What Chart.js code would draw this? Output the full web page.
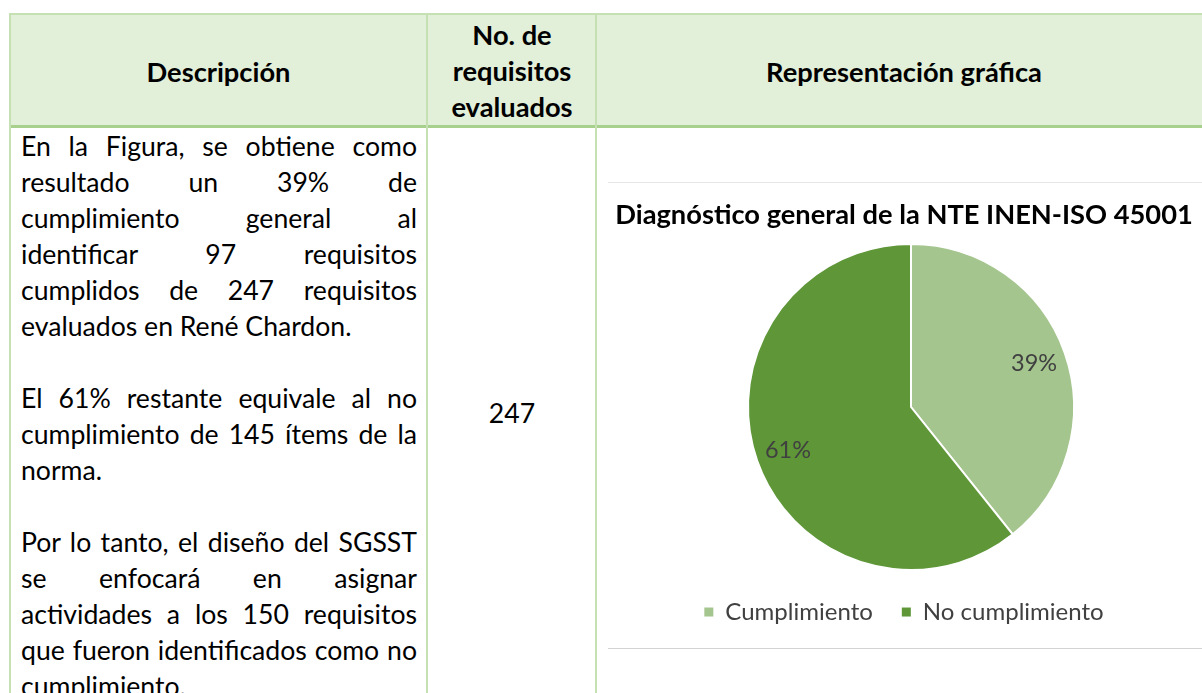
<!DOCTYPE html>
<html lang="es"><head><meta charset="utf-8">
<script src="https://cdn.jsdelivr.net/npm/chart.js@4.4.1/dist/chart.umd.min.js"></script>
<style>
html,body{margin:0;padding:0;background:#fff;}
body{width:1202px;height:693px;overflow:hidden;position:relative;font-family:Lato,"Noto Sans",sans-serif;color:#000;}
.a{position:absolute;box-sizing:border-box;}
#hdrbg{left:10px;top:13px;width:1192px;height:115px;background:#E2EFD9;border-top:2px solid #C5E0B3;border-bottom:3px solid #A8D08D;}
.vl{top:13px;height:680px;width:2px;background:#C5E0B3;}
.hd{font-weight:bold;text-align:center;line-height:36px;white-space:nowrap;}
#h1{left:10px;width:417px;top:54px;}
#h2{left:428px;width:168px;top:17px;}
#h3{left:597px;width:614px;top:54px;}
#bodytext{left:21px;top:128px;width:396px;line-height:36px;}
#bodytext div{height:36px;text-align:justify;text-align-last:justify;}
#bodytext div.l{text-align:left;text-align-last:left;}
#n247{left:428px;width:168px;top:395px;text-align:center;line-height:36px;}
#chartbox{left:608px;top:182px;width:594px;height:467px;border-top:1px solid #E6E6E6;border-bottom:1px solid #D2D2D2;}
#cw{left:608px;top:183px;width:592px;height:465px;}
</style></head>
<body>
<div class="a" id="hdrbg"></div>
<div class="a vl" style="left:9px"></div>
<div class="a vl" style="left:426px"></div>
<div class="a vl" style="left:595px"></div>
<div class="a hd" id="h1">Descripción</div>
<div class="a hd" id="h2">No. de<br>requisitos<br>evaluados</div>
<div class="a hd" id="h3">Representación gráfica</div>
<div class="a" id="bodytext">
<div>En la Figura, se obtiene como</div>
<div>resultado un 39% de</div>
<div>cumplimiento general al</div>
<div>identificar 97 requisitos</div>
<div>cumplidos de 247 requisitos</div>
<div class="l">evaluados en René Chardon.</div>
<div class="l">&nbsp;</div>
<div>El 61% restante equivale al no</div>
<div>cumplimiento de 145 ítems de la</div>
<div class="l">norma.</div>
<div class="l">&nbsp;</div>
<div>Por lo tanto, el diseño del SGSST</div>
<div>se enfocará en asignar</div>
<div>actividades a los 150 requisitos</div>
<div>que fueron identificados como no</div>
<div class="l">cumplimiento.</div>
</div>
<div class="a" id="n247">247</div>
<div class="a" id="chartbox"></div>
<div class="a" id="cw"><canvas id="c" width="592" height="465"></canvas></div>
<script>
// ---- data ----
const categories = ['Cumplimiento', 'No cumplimiento'];
const requisitos = [97, 150];
const chartTitle = 'Diagnóstico general de la NTE INEN-ISO 45001';
// ---- style ----
const sliceColors = ['#A4C58E', '#5E9638'];

const mctx = document.createElement('canvas').getContext('2d');
function tw(text, font){ mctx.font = font; return mctx.measureText(text).width; }
const FAM = 'Lato';
// body font sizing
const lines = Array.from(document.querySelectorAll('#bodytext div')).map(d => d.textContent);
let bodySize = 100 * 340 / tw('evaluados en René Chardon.', '100px ' + FAM);
const maxLine = Math.max(...lines.map(l => tw(l, '100px ' + FAM)));
bodySize = Math.min(bodySize, 100 * 392 / maxLine);
document.getElementById('bodytext').style.fontSize = bodySize + 'px';
document.getElementById('n247').style.fontSize = bodySize + 'px';
const hdSize = 100 * 276 / tw('Representación gráfica', 'bold 100px ' + FAM);
document.querySelectorAll('.hd').forEach(e => e.style.fontSize = hdSize + 'px');

const titleSize = 100 * 578 / tw(chartTitle, 'bold 100px ' + FAM);
const legSize = 100 * 181 / tw('No cumplimiento', '100px ' + FAM);
const lblSize = 100 * 46 / tw('39%', '100px ' + FAM);

const shiftPlugin = {
  id: 'shift',
  afterLayout(chart) { chart.chartArea.left += 7; chart.chartArea.right += 7; }
};
const labelPlugin = {
  id: 'pctLabels',
  afterDatasetsDraw(chart) {
    const ctx = chart.ctx;
    const meta = chart.getDatasetMeta(0);
    const vals = chart.data.datasets[0].data;
    const total = vals.reduce((a, b) => a + b, 0);
    ctx.save();
    ctx.font = lblSize + 'px ' + FAM;
    ctx.fillStyle = '#404040';
    ctx.textAlign = 'center';
    ctx.textBaseline = 'middle';
    meta.data.forEach((arc, i) => {
      const p = arc.getProps(['x', 'y', 'startAngle', 'endAngle', 'outerRadius'], true);
      const a = (p.startAngle + p.endAngle) / 2;
      const r = p.outerRadius * 0.8;
      ctx.fillText(Math.round(vals[i] / total * 100) + '%', p.x + Math.cos(a) * r, p.y + Math.sin(a) * r);
    });
    ctx.restore();
  }
};
const tTop = 32 - 0.6 * titleSize;
const tBot = 60 - tTop - 1.2 * titleSize;
const legPad = Math.round(41 - legSize / 2);
const legH = legSize + legPad + 10;
new Chart(document.getElementById('c'), {
  type: 'pie',
  data: {
    labels: categories,
    datasets: [{ data: requisitos, backgroundColor: sliceColors, borderColor: '#ffffff', borderWidth: 2, hoverOffset: 0 }]
  },
  options: {
    responsive: false, animation: false, devicePixelRatio: 1,
    layout: { padding: { left: 0, right: 0, top: 0, bottom: 77 - legH } },
    plugins: {
      title: { display: true, text: chartTitle, color: '#000', font: { family: FAM, weight: 'bold', size: titleSize, lineHeight: 1.2 }, padding: { top: tTop, bottom: tBot } },
      legend: {
        position: 'bottom',
        labels: {
          boxWidth: 9, boxHeight: 9, padding: legPad, color: '#404040',
          font: { family: FAM, size: legSize },
          generateLabels(chart) {
            return Chart.overrides.pie.plugins.legend.labels.generateLabels(chart).map(l => Object.assign(l, { lineWidth: 0 }));
          }
        }
      },
      tooltip: { enabled: false }
    }
  },
  plugins: [shiftPlugin, labelPlugin]
});
</script>
</body></html>
